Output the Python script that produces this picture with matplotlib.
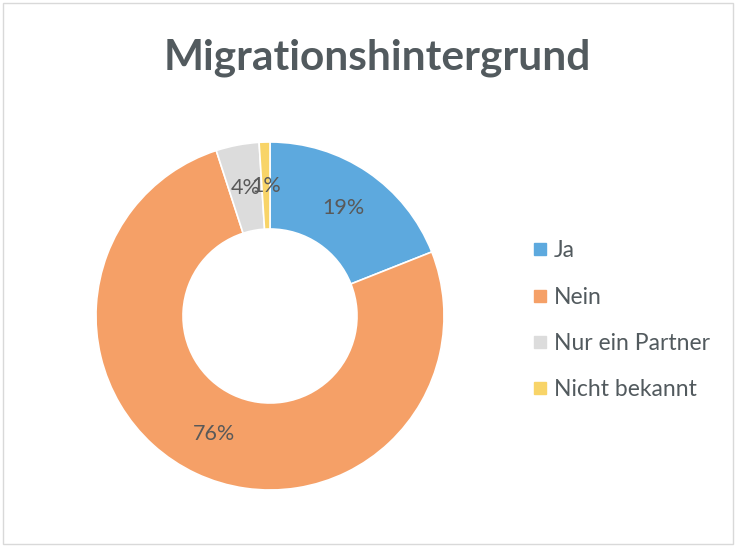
import matplotlib
matplotlib.use("Agg")
import matplotlib.pyplot as plt
from matplotlib.patches import Rectangle
from matplotlib.lines import Line2D

categories = ["Ja", "Nein", "Nur ein Partner", "Nicht bekannt"]
values = [19, 76, 4, 1]
colors = ["#5DA9DE", "#F5A067", "#DCDCDC", "#F8D468"]
title = "Migrationshintergrund"

plt.rcParams['font.family'] = ['Lato', 'DejaVu Sans']
W, H = 736, 547
fig = plt.figure(figsize=(W / 100, H / 100), dpi=100)

cx, cy, r = 270, 316, 174
ax = fig.add_axes([(cx - r) / W, (H - cy - r) / H, 2 * r / W, 2 * r / H])
wedges, texts, autotexts = ax.pie(
    values, colors=colors, startangle=90, counterclock=False, radius=1.0,
    autopct=lambda p: f"{p:.0f}%", pctdistance=0.75,
    wedgeprops=dict(width=0.5, edgecolor="white", linewidth=1.2),
    textprops=dict(color="#595959", fontsize=15.5))
ax.set_xlim(-1, 1)
ax.set_ylim(-1, 1)
ax.set_aspect("equal")
ax.axis("off")

fig.text(377 / W, 1 - 58 / H, title, ha="center", va="center",
         fontsize=30.5, fontweight="bold", color="#525a5e")

handles = [Line2D([], [], marker="s", linestyle="none", markersize=8,
                  markerfacecolor=c, markeredgecolor=c) for c in colors]
fig.legend(handles, categories, loc="upper left",
           bbox_to_anchor=(522 / W, 1 - 229 / H), frameon=False,
           fontsize=16.5, labelcolor="#525a5e", handlelength=0.6,
           handletextpad=0.3, labelspacing=1.1, borderpad=0)

fig.patches.append(Rectangle((3 / W, 3 / H), 1 - 6 / W, 1 - 6 / H,
                             transform=fig.transFigure, fill=False,
                             edgecolor="#D9D9D9", linewidth=1))

fig.savefig("out.png", dpi=100, facecolor="white")
